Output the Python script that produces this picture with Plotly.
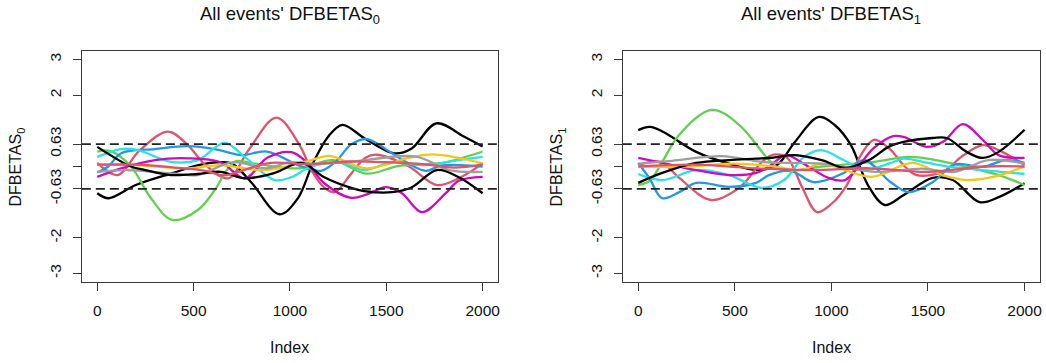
import plotly.graph_objects as go

# ---------------- data (index, DFBETAS) ----------------
TICK_X = [0, 500, 1000, 1500, 2000]
TICK_Y = [-3, -2, -0.63, 0, 0.63, 2, 3]
TICK_Y_TEXT = ["-3", "-2", "-0.63", "", "0.63", "2", "3"]
CUTOFF = 0.63

COLORS = ["#000000", "#DF536B", "#61D04F", "#2297E6", "#28E2E5",
          "#CD0BBC", "#F5C710", "#9E9E9E", "#000000", "#DF536B"]

# Left panel: DFBETAS_0
L_BLACK_A = [(0, -0.75), (60, -0.89), (200, -0.52), (400, -0.17), (520, 0.03), (640, 0.12),
             (700, 0.08), (800, -0.45), (946, -1.34), (1040, -0.9), (1120, 0.1), (1200, 0.85),
             (1272, 1.17), (1390, 0.78), (1540, 0.37), (1630, 0.5), (1760, 1.21), (1900, 0.85), (2000, 0.56)]
L_RED_A = [(0, 0.1), (105, -0.24), (220, 0.45), (367, 0.98), (470, 0.6), (560, 0.05), (680, -0.33),
           (790, 0.5), (930, 1.37), (1050, 0.6), (1111, -0.1), (1180, -0.6), (1232, -0.72),
           (1318, -0.2), (1390, 0.24), (1450, 0.33), (1617, 0.0), (1762, -0.52), (1876, -0.33), (2000, 0.08)]
L_GREEN = [(0, 0.42), (70, 0.43), (175, 0.0), (280, -0.9), (390, -1.5), (522, -1.22), (610, -0.66),
           (670, -0.12), (720, 0.15), (808, 0.09), (1050, -0.05), (1222, 0.18), (1395, -0.2),
           (1567, 0.02), (1788, 0.1), (2000, 0.42)]
L_BLUE = [(0, -0.17), (57, 0.0), (124, 0.37), (300, 0.49), (470, 0.57), (610, 0.49), (749, 0.32),
          (880, 0.42), (1060, 0.0), (1163, -0.12), (1240, 0.15), (1318, 0.62), (1400, 0.77),
          (1530, 0.37), (1617, 0.08), (1705, -0.12), (1788, 0.03), (2000, 0.0)]
L_CYAN = [(0, 0.27), (124, 0.49), (212, 0.46), (383, 0.13), (522, 0.18), (660, 0.66), (765, 0.27),
          (920, -0.38), (1008, -0.3), (1111, 0.0), (1266, 0.1), (1385, -0.1), (1530, 0.12),
          (1705, 0.04), (1876, 0.18), (2000, 0.27)]
L_MAGENTA = [(0, -0.29), (124, -0.05), (300, 0.18), (470, 0.23), (641, 0.12), (765, -0.33),
             (884, 0.25), (1008, 0.4), (1090, 0.1), (1178, -0.47), (1318, -0.88), (1400, -0.78),
             (1499, -0.58), (1581, -0.75), (1685, -1.28), (1809, -0.75), (1876, -0.4), (2000, -0.29)]
L_YELLOW = [(0, 0.05), (200, 0.04), (470, -0.05), (641, 0.04), (870, -0.1), (1111, 0.18),
            (1205, 0.3), (1395, -0.05), (1617, 0.24), (1740, 0.34), (2000, 0.09)]
L_GRAY = [(0, -0.15), (150, -0.1), (400, -0.2), (520, -0.24), (705, 0.12), (880, -0.05),
          (1000, 0.12), (1120, 0.08), (1300, 0.12), (1653, 0.28), (1826, -0.1), (2000, -0.15)]
L_BLACK_B = [(0, 0.55), (175, 0.0), (250, -0.1), (383, -0.24), (522, -0.21), (641, -0.15),
             (765, -0.33), (920, -0.18), (1060, 0.1), (1178, -0.3), (1318, -0.6), (1385, -0.69),
             (1530, -0.72), (1633, -0.58), (1762, -0.1), (1876, -0.3), (2000, -0.75)]
L_RED_B = [(0, 0.05), (200, 0.05), (400, -0.03), (560, -0.12), (660, -0.25), (760, -0.1),
           (900, 0.1), (1100, 0.06), (1300, 0.14), (1500, 0.12), (1700, 0.06), (1850, -0.03), (2000, 0.06)]

# Right panel: DFBETAS_1
R_BLACK_A = [(0, 1.02), (60, 1.11), (130, 0.97), (300, 0.41), (470, 0.08), (620, -0.1),
             (720, 0.05), (811, 0.69), (935, 1.39), (1020, 1.15), (1101, 0.6), (1189, -0.52),
             (1276, -1.08), (1374, -0.8), (1524, -0.32), (1628, -0.38), (1767, -1.0),
             (1866, -0.86), (2000, -0.47)]
R_RED_A = [(0, 0.04), (117, 0.13), (212, -0.32), (377, -0.94), (522, -0.6), (641, 0.13),
           (700, 0.33), (770, 0.25), (850, -0.6), (925, -1.28), (1000, -1.05), (1080, -0.52),
           (1150, 0.3), (1220, 0.75), (1300, 0.5), (1380, 0.0), (1442, -0.24), (1576, -0.15),
           (1680, 0.3), (1783, 0.6), (1866, 0.46), (2000, 0.04)]
R_GREEN = [(0, -0.52), (60, -0.4), (124, 0.13), (212, 0.89), (380, 1.59), (522, 1.17),
           (677, 0.18), (739, -0.1), (950, 0.0), (1122, 0.08), (1220, 0.13), (1400, 0.27),
           (1520, 0.2), (1700, -0.01), (1866, -0.24), (2000, -0.52)]
R_BLUE = [(0, 0.1), (57, -0.32), (124, -0.89), (212, -0.72), (300, -0.46), (470, -0.57),
          (610, -0.46), (677, -0.24), (790, -0.12), (909, -0.44), (1064, -0.18), (1168, 0.18),
          (1307, -0.44), (1400, -0.72), (1524, -0.44), (1640, 0.06), (1783, -0.01), (1902, 0.18), (2000, 0.1)]
R_CYAN = [(0, -0.21), (124, -0.38), (300, -0.1), (470, -0.24), (640, -0.6), (755, -0.38),
          (858, 0.27), (946, 0.46), (1064, 0.18), (1168, -0.1), (1307, 0.1), (1374, 0.22),
          (1500, 0.1), (1617, -0.01), (1783, -0.1), (2000, -0.21)]
R_MAGENTA = [(0, 0.24), (124, 0.1), (300, -0.1), (470, -0.24), (610, -0.18), (677, 0.0),
             (765, 0.32), (850, 0.1), (985, -0.32), (1070, -0.38), (1220, 0.52), (1320, 0.85),
             (1374, 0.83), (1494, 0.55), (1580, 0.7), (1680, 1.19), (1783, 0.75), (1866, 0.32), (2000, 0.24)]
R_YELLOW = [(0, 0.0), (250, 0.0), (502, 0.08), (700, 0.0), (843, -0.1), (950, 0.08),
            (1209, -0.29), (1420, 0.1), (1580, -0.25), (1700, -0.38), (1850, -0.28), (2000, 0.0)]
R_GRAY = [(0, 0.08), (174, 0.16), (433, 0.29), (650, 0.12), (950, 0.08), (1226, -0.15),
          (1467, -0.06), (1640, -0.15), (1812, 0.18), (2000, 0.08)]
R_BLACK_B = [(0, -0.46), (124, -0.18), (300, 0.1), (470, 0.18), (610, 0.22), (700, 0.25),
             (811, 0.32), (950, 0.18), (1070, -0.04), (1194, 0.18), (1296, 0.55), (1374, 0.69),
             (1524, 0.8), (1597, 0.8), (1700, 0.41), (1783, 0.24), (1866, 0.41), (2000, 1.03)]
R_RED_B = [(0, 0.0), (300, 0.05), (600, -0.05), (900, -0.1), (1200, -0.05), (1500, -0.15),
           (1800, 0.0), (2000, 0.0)]

LEFT_SERIES = [L_BLACK_A, L_RED_A, L_GREEN, L_BLUE, L_CYAN, L_MAGENTA, L_YELLOW, L_GRAY, L_BLACK_B, L_RED_B]
RIGHT_SERIES = [R_BLACK_A, R_RED_A, R_GREEN, R_BLUE, R_CYAN, R_MAGENTA, R_YELLOW, R_GRAY, R_BLACK_B, R_RED_B]

# ---------------- figure ----------------
W, H = 1046, 363
FONT = "Liberation Sans, Arial, Helvetica, sans-serif"
AXCOL = "#3a3a3a"
TXT = "#111111"

fig = go.Figure()

panels = [
    (LEFT_SERIES, "x", "y", (82, 499), "0"),
    (RIGHT_SERIES, "x2", "y2", (624, 1042), "1"),
]

for series, xr, yr, (px0, px1), sub in panels:
    for pts, col in zip(series, COLORS):
        fig.add_trace(go.Scatter(
            x=[p[0] for p in pts], y=[p[1] for p in pts],
            mode="lines", line=dict(color=col, width=2.3, shape="spline", smoothing=1.0),
            xaxis=xr, yaxis=yr, showlegend=False, hoverinfo="skip"))
    for c in (CUTOFF, -CUTOFF):
        fig.add_shape(type="line", xref=f"{xr} domain", yref=yr, x0=0, x1=1, y0=c, y1=c,
                      line=dict(color="#222222", width=1.8, dash="9px,5px"))
    cx = (px0 + px1) / 2 / W
    fig.add_annotation(text=f"All events' DFBETAS<sub>{sub}</sub>", x=cx, y=1 - 15 / H,
                       xref="paper", yref="paper", showarrow=False,
                       font=dict(size=18.5, color=TXT, family=FONT), xanchor="center", yanchor="middle")
    fig.add_annotation(text="Index", x=cx, y=1 - 347 / H, xref="paper", yref="paper", showarrow=False,
                       font=dict(size=16, color=TXT, family=FONT), xanchor="center", yanchor="middle")
    fig.add_annotation(text=f"DFBETAS<sub>{sub}</sub>", x=(px0 - 65) / W, y=1 - 166.5 / H,
                       xref="paper", yref="paper", showarrow=False, textangle=-90,
                       font=dict(size=16, color=TXT, family=FONT), xanchor="center", yanchor="middle")

def xaxis(px0, px1, anchor):
    return dict(domain=[px0 / W, px1 / W], range=[-80, 2080], anchor=anchor,
                tickvals=TICK_X, ticktext=[str(t) for t in TICK_X],
                showgrid=False, zeroline=False, showline=True, mirror=True,
                linecolor=AXCOL, linewidth=1, ticks="outside", ticklen=8, tickcolor=AXCOL,
                ticklabelstandoff=6,
                tickfont=dict(size=15.5, color=TXT, family=FONT))

def yaxis(anchor):
    return dict(domain=[1 - 282 / H, 1 - 51 / H], range=[-3.24, 3.24], anchor=anchor,
                tickvals=TICK_Y, ticktext=TICK_Y_TEXT, tickangle=-90,
                showgrid=False, zeroline=False, showline=True, mirror=True,
                linecolor=AXCOL, linewidth=1, ticks="outside", ticklen=8, tickcolor=AXCOL,
                ticklabelstandoff=6,
                tickfont=dict(size=15.5, color=TXT, family=FONT))

fig.update_layout(
    width=W, height=H, margin=dict(l=0, r=0, t=0, b=0),
    paper_bgcolor="white", plot_bgcolor="white",
    xaxis=xaxis(82, 499, "y"), yaxis=yaxis("x"),
    xaxis2=xaxis(624, 1042, "y2"), yaxis2=yaxis("x2"),
    font=dict(family=FONT),
)

fig.write_html("out.html")
